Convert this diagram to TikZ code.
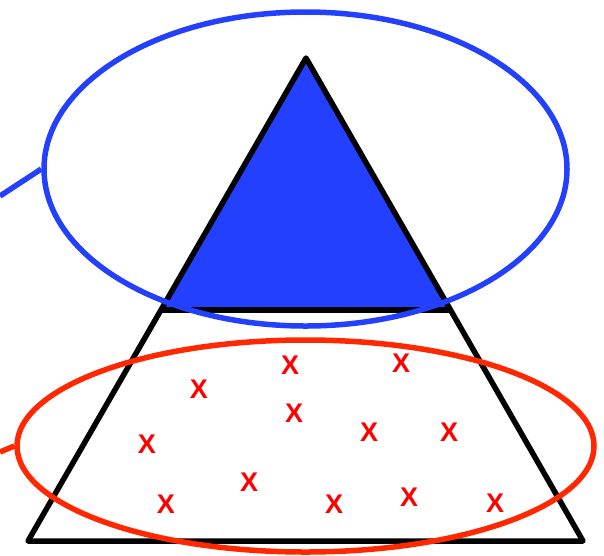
\documentclass[tikz,border=0pt]{standalone}
\usepackage{fontspec}
\setmainfont{Liberation Sans}
\newfontfamily\xfont{Liberation Sans Bold}
\usetikzlibrary{shapes.geometric}
\definecolor{myblue}{RGB}{36,64,255}
\definecolor{myred}{RGB}{255,40,0}
\definecolor{xred}{RGB}{255,0,0}
\tikzset{
  edge/.style={line width=5.5pt, line join=round},
  ring/.style={line width=5.5pt, ellipse, inner sep=0pt},
  mark x/.style={text=xred, font=\xfont\fontsize{27}{27}\selectfont, inner sep=0pt},
}
\begin{document}
\begin{tikzpicture}[x=1pt,y=-1pt]
\useasboundingbox (0,0) rectangle (604,555);
\coordinate (apex) at (306,58);
\coordinate (bl) at (28,541);
\coordinate (br) at (583,541);
\coordinate (ml) at (161.5,310);
\coordinate (mr) at (450.5,310);
\fill[myblue] (apex) -- (ml) -- (mr) -- cycle;
\draw[edge] (apex) -- (bl) -- (br) -- cycle;
\draw[edge] (ml) -- (mr);
\node[draw=myblue, ring, minimum width=523pt, minimum height=314pt] (topell) at (305.5,169) {};
\coordinate (blueend) at (0,196);
\draw[myblue, line width=5.5pt] (blueend) -- (topell.west);
\node[draw=myred, ring, minimum width=577pt, minimum height=212pt] (botell) at (305.5,446) {};
\coordinate (redend) at (0,452);
\draw[myred, line width=5.5pt] (redend) -- (botell.west);
\node[mark x] (x1) at (199,389) {X};
\node[mark x] (x2) at (290,365) {X};
\node[mark x] (x3) at (401,363) {X};
\node[mark x] (x4) at (294,413) {X};
\node[mark x] (x5) at (147,444) {X};
\node[mark x] (x6) at (369,432) {X};
\node[mark x] (x7) at (449,432) {X};
\node[mark x] (x8) at (249,482) {X};
\node[mark x] (x9) at (166,504) {X};
\node[mark x] (x10) at (334,504) {X};
\node[mark x] (x11) at (409,497) {X};
\node[mark x] (x12) at (495,503) {X};
\end{tikzpicture}
\end{document}
